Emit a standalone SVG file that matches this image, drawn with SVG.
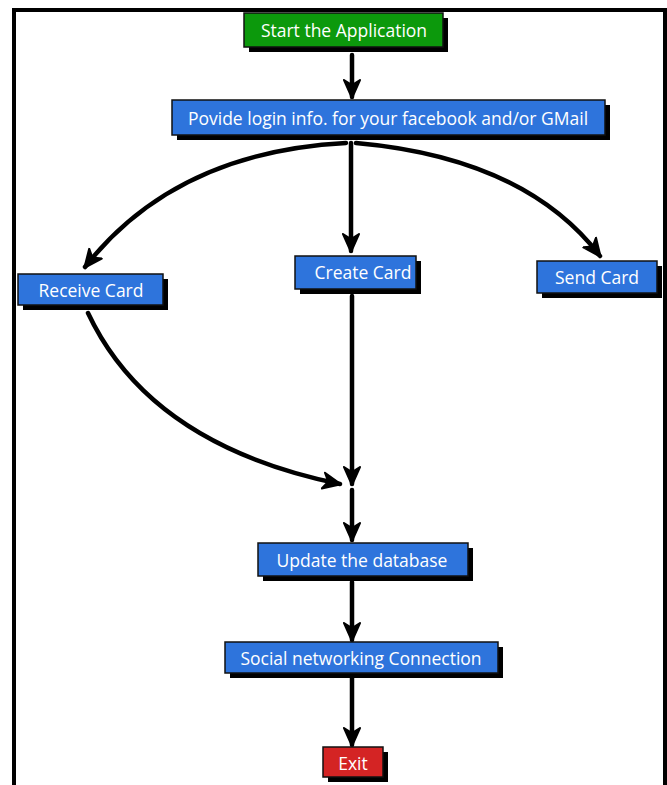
<svg xmlns="http://www.w3.org/2000/svg" width="667" height="785" viewBox="0 0 667 785">
<style>
.sh{fill:#000}
.box{stroke:#111;stroke-width:1.5}
.blue{fill:#2e74dc}
.green{fill:#0c990c}
.red{fill:#d42424}
.t{font-family:"Open Sans","Liberation Sans",sans-serif;font-size:17.5px;fill:#fff;text-anchor:middle;dominant-baseline:central}
.c{fill:none;stroke:#000;stroke-width:4.5;stroke-linecap:round}
</style>
<defs>
<marker id="ah" viewBox="0 0 20 20" refX="18" refY="10" markerWidth="20" markerHeight="20" markerUnits="userSpaceOnUse" orient="auto">
<path d="M1,2 L19,10 L1,18 L6,10 Z" fill="#000" stroke="#000" stroke-width="2" stroke-linejoin="round"/>
</marker>
</defs>
<rect width="667" height="785" fill="#fff"/>
<path d="M14,785 V10 H665 V785" fill="none" stroke="#000" stroke-width="4"/>
<g id="connectors">
<path class="c" d="M352,55 V97" marker-end="url(#ah)"/>
<path class="c" d="M346,143 Q175,152 85,267" marker-end="url(#ah)"/>
<path class="c" d="M351,143 V251" marker-end="url(#ah)"/>
<path class="c" d="M356,143 Q525,158 600,256" marker-end="url(#ah)"/>
<path class="c" d="M352,296 V484" marker-end="url(#ah)"/>
<path class="c" d="M88,313 Q150,445 340,484" marker-end="url(#ah)"/>
<path class="c" d="M352,490 V540" marker-end="url(#ah)"/>
<path class="c" d="M352,582 V640" marker-end="url(#ah)"/>
<path class="c" d="M352,678 V745" marker-end="url(#ah)"/>
</g>
<g id="start">
<rect class="sh" x="249" y="18" width="199" height="34"/>
<rect class="box green" x="244" y="13" width="199" height="34"/>
<text class="t" x="344" y="30">Start the Application</text>
</g>
<g id="login">
<rect class="sh" x="177" y="105" width="433" height="35"/>
<rect class="box blue" x="172" y="100" width="433" height="35"/>
<text class="t" x="388" y="118">Povide login info. for your facebook and/or GMail</text>
</g>
<g id="receive">
<rect class="sh" x="23" y="279" width="145" height="31"/>
<rect class="box blue" x="18" y="274" width="145" height="31"/>
<text class="t" x="91" y="290">Receive Card</text>
</g>
<g id="create">
<rect class="sh" x="300" y="261" width="121" height="33"/>
<rect class="box blue" x="295" y="256" width="121" height="33"/>
<text class="t" x="363" y="272">Create Card</text>
</g>
<g id="send">
<rect class="sh" x="542" y="266" width="120" height="32"/>
<rect class="box blue" x="537" y="261" width="120" height="32"/>
<text class="t" x="597" y="277">Send Card</text>
</g>
<g id="update">
<rect class="sh" x="263" y="548" width="210" height="33"/>
<rect class="box blue" x="258" y="543" width="210" height="33"/>
<text class="t" x="362" y="560">Update the database</text>
</g>
<g id="social">
<rect class="sh" x="230" y="647" width="273" height="31"/>
<rect class="box blue" x="225" y="642" width="273" height="31"/>
<text class="t" x="361" y="658">Social networking Connection</text>
</g>
<g id="exit">
<rect class="sh" x="328" y="752" width="60" height="30"/>
<rect class="box red" x="323" y="747" width="60" height="30"/>
<text class="t" x="353" y="763">Exit</text>
</g>
</svg>
